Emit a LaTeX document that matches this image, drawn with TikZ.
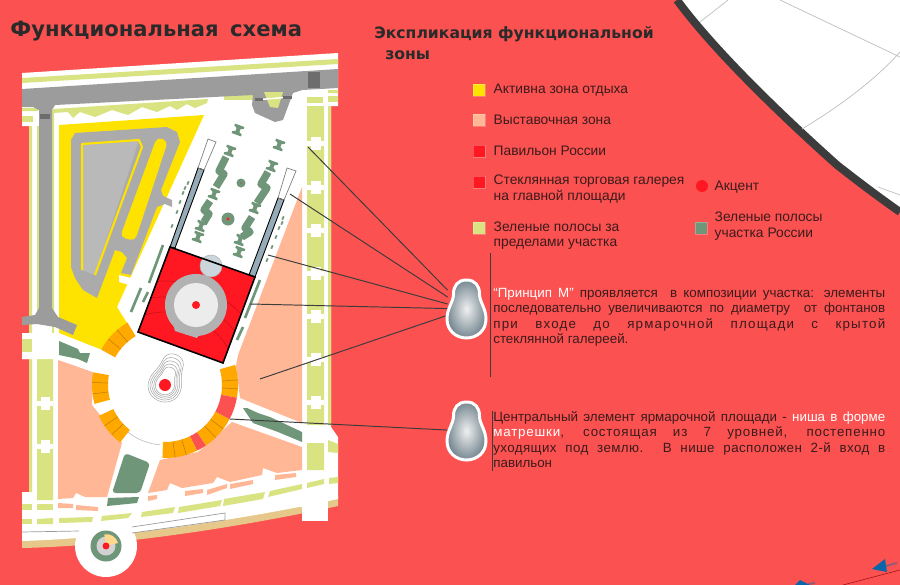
\documentclass[tikz,border=0pt]{standalone}
\usepackage{fontspec}
\setmainfont{Liberation Sans}
\newfontfamily\headfont{DejaVu Sans}
\usetikzlibrary{positioning}
\definecolor{zbg}{HTML}{FB5150}
\definecolor{zyellow}{HTML}{FFE300}
\definecolor{zpink}{HTML}{FFB796}
\definecolor{zred}{HTML}{FF1721}
\definecolor{zlime}{HTML}{DAE381}
\definecolor{zgreen}{HTML}{6F9679}
\definecolor{zgrey}{HTML}{9C9C9C}
\definecolor{zorange}{HTML}{FFA800}
\definecolor{ztan}{HTML}{E6C88A}
\definecolor{zsteel}{HTML}{95ACB8}
\definecolor{zink}{HTML}{3B1B1C}
\definecolor{zdark}{HTML}{3C3C3C}
\definecolor{zblue}{HTML}{0A66A9}
\tikzset{
swatch/.style={minimum size=0.24cm, inner sep=0pt, draw=white, draw opacity=0.25}, % legend squares
legend/.style={inner sep=0pt, align=left, text=zink, font=\fontsize{7.85}{8.9}\selectfont, right=0.16cm of #1},
para/.style={inner sep=0pt, anchor=north west, align=left, text=zink, font=\fontsize{7.6}{8.75}\selectfont},
leader/.style={draw=zdark, line width=0.55pt},
pearbox/.style={minimum width=0.72cm, minimum height=1.16cm, inner sep=0pt},
tick/.style={zgreen, line width=1.5pt},
wave/.style={zgreen, line width=4.2pt, line join=round},
pearshape/.pic={\path[pic actions] (0,-38) .. controls (9,-38) and (13,-32) .. (13,-24) .. controls (13,-16) and (19.5,-10) .. (19.5,1) .. controls (19.5,13) and (10,20) .. (0,20) .. controls (-10,20) and (-19.5,13) .. (-19.5,1) .. controls (-19.5,-10) and (-13,-16) .. (-13,-24) .. controls (-13,-32) and (-9,-38) .. (0,-38) -- cycle;},
spool/.pic={\fill[zgreen] (-5,-5) -- (5,-5) -- (5,-3) -- (2,-1.5) -- (2,1.5) -- (5,3) -- (5,5) -- (-5,5) -- (-5,3) -- (-2,1.5) -- (-2,-1.5) -- (-5,-3) -- cycle;},
}
\newcommand{\ringseg}[3]{\fill[#3] ([shift={(-#1:57)}]165,385) arc[start angle=-#1, end angle=-#2, radius=57] -- ([shift={(-#2:73)}]165,385) arc[start angle=-#2, end angle=-#1, radius=73] -- cycle;}
\newcommand{\fullline}[1]{\makebox[7.84cm][s]{#1}}
\begin{document}
\begin{tikzpicture}[x=0.02cm,y=-0.02cm]
\useasboundingbox (0,0) rectangle (900,585);
\fill[zbg] (0,0) rectangle (900,585);
% white sector top right
\fill[white] (677,0) .. controls (710,45) and (770,105) .. (837,165) .. controls (860,183) and (880,198) .. (900,212) -- (900,0) -- cycle;
\draw[zdark, line width=4.5pt] (677,0) .. controls (710,45) and (770,105) .. (837,165) .. controls (860,183) and (880,198) .. (900,212);
\draw[gray!50, line width=0.4pt] (700,22) -- (728,0) (780,0) -- (900,57) (802,129) .. controls (840,106) and (875,80) .. (900,52) (878,187) -- (900,195);
% site base
\fill[ztan] (22,535) -- (22,548) .. controls (120,546) and (240,527) .. (338,506) -- (338,495) -- cycle;
\fill[white] (22,73) -- (338,53) -- (338,106) -- (331,106) -- (331,427) -- (338,437) -- (338,499) .. controls (240,520) and (120,538) .. (22,541) -- (22,492) -- (29,492) -- (29,359) -- (22,359) -- (22,333) -- (29,333) -- (29,126) -- (22,126) -- cycle;
\fill[white] (302,500) rectangle (328,521);
\fill[white] (293,498) rectangle (310,507);
\fill[white] (106,546) circle (31);
\fill[zgreen] (106,546) circle (15.5);
\fill[gray!35] (106,546) circle (9.5);
\fill[zorange!45] (106,546) -- (118,543) arc[start angle=-15, end angle=-100, radius=12] -- cycle;
\fill[zred] (106,546) circle (3.5);
\draw[zgrey, line width=0.4pt] (22,532) -- (79,531) (132,527) -- (225,513) -- (225,520) -- (132,533);
% zones
\fill[zyellow] (59,125) -- (204,115) -- (117,307) -- (127,323) -- (102,350) -- (59,333) -- cycle;
\fill[zpink] (58,360) -- (93,372) -- (92,405) -- (100,415) -- (122,443) -- (107,497) -- (85,497) -- (76,493) -- (73,498) -- (58,499) -- cycle;
\fill[zpink] (160,460) -- (148,493) -- (167,490) -- (170,483) -- (182,488) -- (213,483) -- (217,477) -- (230,482) -- (262,475) -- (263,468) -- (277,473) -- (302,470) -- (302,447) -- (232,422) -- (198,452) -- cycle;
\fill[zpink] (302,187) -- (238,355) -- (236,366) -- (240,398) -- (302,423) -- cycle;
\foreach \a/\b/\c/\d in {58/503/73/504,76/505/98/507,148/496/157/495,185/491/203/489,207/490/227/484,230/484/253/480,275/475/296/473}
  \fill[zpink] (\a,\b) -- (\c,\d) -- (\c,\d+4) -- (\a,\b+5) -- cycle;
\fill[white] (165,385) circle (57);
% lime strips
\fill[zlime] (22,78) -- (338,59) -- (338,64) -- (22,83) -- cycle;
\fill[zlime] (53,109) -- (208,99) -- (207,103) -- (195,108) -- (187,104) -- (177,110) -- (170,106) -- (157,112) -- (142,107) -- (128,115) -- (112,110) -- (95,117) -- (80,112) -- (73,118) -- (68,112) -- (53,113) -- cycle;
\foreach \a/\b/\c/\d in {224/95/253/94,307/97/323/97,328/96/338/96,22/116/33/116}
  \fill[zlime] (\a,\b) rectangle (\c,\d+6);
\fill[zlime] (328,90) rectangle (338,93) (22,108) rectangle (38,111);
\fill[zlime] (307,106) rectangle (324,425) (307,443) rectangle (324,470);
\fill[zlime] (328,106) rectangle (331,425) (29,126) rectangle (32,333) (29,359) rectangle (32,492) (37,359) rectangle (53,500);
\fill[zlime] (37,126) rectangle (39,317) (52,110) rectangle (54,333);
\foreach \y in {143,187,230,273,316,359,402}{
  \fill[white] (307,\y-2.5) rectangle (324,\y+2.5);
  \fill[white] (311,\y-6.5) rectangle (321,\y+6.5);
}
\foreach \y in {403,446}{
  \fill[white] (37,\y-2.5) rectangle (53,\y+2.5);
  \fill[white] (41,\y-6.5) rectangle (50,\y+6.5);
}
\foreach \a/\b/\c/\d/\e/\f/\g/\h in {59/518/93/517/92/522/59/523,102/516/132/513/128/518/101/521,142/512/175/507/173/513/141/517,179/507/222/500/220/506/178/513,224/499/265/492/263/499/223/506,270/491/302/484/302/489/268/497,307/483/324/479/324/484/307/488,329/478/338/477/338/483/329/484,37/504/53/504/53/510/37/510,22/504/32/504/32/510/22/510,37/519/53/518/53/524/37/524,22/519/32/519/32/524/22/524}
  \fill[zlime] (\a,\b) -- (\c,\d) -- (\e,\f) -- (\g,\h) -- cycle;
\fill[zlime] (328,440) -- (338,444) -- (338,453) -- (328,452) -- cycle;
% roads
\fill[zgrey] (22,89) -- (338,69) -- (338,88) -- (302,90) -- (293,93) -- (283,120) -- (275,122) -- (255,113) -- (252,105) -- (253,95) -- (55,105) -- (52,110) -- (52,308) -- (58,317) -- (77,325) -- (73,335) -- (55,327) -- (37,324) -- (22,325) -- (22,317) -- (35,315) -- (39,308) -- (39,110) -- (33,107) -- (22,107) -- cycle;
\fill[zlime] (264,92) -- (283,92) -- (278,108) -- (270,107) -- cycle;
\fill[white] (257,99) -- (293,96) -- (293,97.5) -- (257,100.5) -- cycle;
\foreach \a/\b/\c/\d in {308/72/320/88,40/114/50/119,255/98/263/101,283/96/292/99}
  \fill[zdark!75] (\a,\b) rectangle (\c,\d);
% parking loop
\fill[zgrey!85] (71,140) -- (75,133) -- (167,127) -- (177,132) -- (180,142) -- (161,190) -- (163,196) -- (172,200) -- (172,207) -- (165,204) -- (157,207) -- (131,275) -- (121,273) -- (127,258) -- (122,252) -- (115,250) -- (97,298) -- (83,290) -- (75,278) -- (71,267) -- cycle;
\fill[zyellow, rounded corners=3pt] (157,137) -- (168,141) -- (135,241) -- (120,237) -- cycle;
\fill[white] (119,275) -- (143,281) -- (140,288) -- (119,282) -- cycle;
\fill[gray!55] (82,143) -- (139,140) -- (95,275) -- (82,270) -- cycle;
\draw[zyellow, line width=1.2pt, line join=round] (82,270) -- (82,144) -- (139,140) -- (142,147) -- (95,275);
% axis of the pavilion
\fill[zsteel, draw=black, line width=0.5pt] (198,168) -- (204,170) -- (175,248) -- (170,247) -- cycle;
\fill[zsteel, draw=black, line width=0.5pt] (278,198) -- (284,200) -- (255,277) -- (249,275) -- cycle;
\draw[gray, line width=0.4pt] (208,139) -- (216,142) -- (204,170) -- (198,168) -- cycle (287,168) -- (296,171) -- (284,200) -- (278,198) -- cycle;
\foreach \x/\y in {238/130,279/145,230/151,272/166,214/194,255/208,201/226,198/237,240/240,239/252}
  \pic[rotate=-20] at (\x,\y) {spool};
\draw[wave] (226,157) -- (219,171) -- (224,174) -- (216,187);
\draw[wave] (210,201) -- (204,210) -- (209,214) -- (204,222);
\draw[wave] (268,172) -- (261,184) -- (267,188) -- (257,203);
\draw[wave] (252,217) -- (245,228) -- (250,232) -- (242,237);
\fill[zgreen] (241,183) circle (4.5) (228,219) circle (6.5);
\fill[zred] (241,183) circle (0.6) (228,219) circle (1.6);
\foreach \x/\y in {172/226,177/212,180/202,183/193,185/188,188/183,267/260,272/247,276/237,279/228,282/223,283/218}
  \draw[zgreen, line width=1pt] (\x-0.7,\y+1.7) -- (\x+0.7,\y-1.7);
\draw[tick] (163,245) -- (149,283) (141,288) -- (131,312) (148,292) -- (143,302) (260,280) -- (245,318) (243,327) -- (237,340);
% pavilion
\fill[zred] (170,247) -- (255,277) -- (223,363) -- (138,332) -- cycle;
\begin{scope}
\clip (170,247) -- (255,277) -- (223,363) -- (138,332) -- cycle;
\foreach \r in {73,88,104}
  \draw[zred!80!black, line width=0.35pt] (165,385) circle (\r);
\end{scope}
\fill[gray!60] (173,324) -- (175,331) -- (197,338) -- (200,333) -- cycle;
\fill[gray!60] (196,305) circle (31);
\fill[gray!15] (196,305) circle (22);
\fill[zred] (196,305) circle (4);
\fill[zsteel!50!white, draw=gray!60, line width=0.3pt] (211,266) circle (11);
\draw[black, line width=0.9pt] (170,247) -- (255,277) -- (223,363) -- (138,332) -- cycle;
% square and ring
\draw[gray!50, line width=0.35pt] (165,385) ++(-205:60) arc[start angle=-205, end angle=-265, radius=60];
\ringseg{121}{151}{zorange}
\ringseg{16}{-10}{zorange}
\ringseg{-10}{-28}{zbg}
\ringseg{-28}{-56}{zorange}
\ringseg{-56}{-64}{zbg}
\ringseg{-64}{-92}{zorange}
\ringseg{-128}{-155}{zorange}
\ringseg{170}{195}{zorange}
\foreach \a in {131,141,4,-3,-37,-46,-73,-82,-137,-146,178,187}
  \draw[zorange!75!black, line width=0.3pt] ([shift={(-\a:57)}]165,385) -- ([shift={(-\a:73)}]165,385);
\foreach \s in {0.85,0.75,0.66,0.57,0.49}
  \pic[draw=gray!70, line width=0.3pt, scale=\s, rotate=-20] at (165,385) {pearshape};
\fill[zred] (165,385) circle (6);
\fill[white] (22,333) -- (58,333) -- (102,350) -- (93,372) -- (58,359) -- (22,359) -- cycle;
\fill[zlime] (22,339) rectangle (32,352);
\fill[zgreen] (59,341) -- (78,349) -- (80,353) -- (90,353) -- (87,363) -- (78,359) -- (59,355) -- cycle;
\fill[zgreen] (243,408) -- (253,423) -- (267,428) -- (278,432) -- (302,442) -- (302,432) -- (283,423) -- (270,417) -- (258,413) -- (247,408) -- cycle;
\fill[zgreen, rounded corners=2pt] (125,453) -- (150,463) -- (140,493) -- (112,493) -- cycle;
\fill[zgreen] (108,498) -- (139,497) -- (137,503) -- (107,506) -- cycle;
% legend
\node[swatch, fill=zyellow] (s1) at (479,90) {};
\node[swatch, fill=zpink] (s2) at (479,120) {};
\node[swatch, fill=zred] (s3) at (479,151) {};
\node[swatch, fill=zred] (s4) at (479,182) {};
\node[swatch, fill=zlime] (s5) at (479,228) {};
\node[circle, fill=zred, minimum size=0.24cm, inner sep=0pt] (s6) at (702,186) {};
\node[swatch, fill=zgreen] (s7) at (701,228) {};
\node[legend=s1] (t1) {Активна зона отдыха};
\node[legend=s2] (t2) {Выставочная зона};
\node[legend=s3] (t3) {Павильон России};
\node[legend=s4, yshift=-0.14cm] (t4) {Стеклянная торговая галерея\\на главной площади};
\node[legend=s5, yshift=-0.15cm] (t5) {Зеленые полосы за\\пределами участка};
\node[legend=s6, xshift=-0.04cm, yshift=-0.02cm] (t6) {Акцент};
\node[legend=s7, xshift=-0.02cm, yshift=0.04cm] (t7) {Зеленые полосы\\участка России};
% titles
\node[anchor=base west, inner sep=0pt, text=zdark!70!black, font=\headfont\bfseries\fontsize{12}{12}\selectfont] (title) at (10,36) {Функциональная\hspace{0.2em} схема};
\node[anchor=base west, inner sep=0pt, text=zdark!70!black, font=\headfont\bfseries\fontsize{8.9}{10}\selectfont] (head1) at (374,38) {Экспликация функциональной};
\node[anchor=base west, inner sep=0pt, text=zdark!70!black, font=\headfont\bfseries\fontsize{8.9}{10}\selectfont] (head2) at (385,59) {зоны};
% leaders
\node[pearbox] (pearA) at (466,309) {};
\node[pearbox] (pearB) at (466,431) {};
\coordinate (a1) at (308,147);
\coordinate (a2) at (290,194);
\coordinate (a3) at (268,255);
\coordinate (a4) at (250,304);
\coordinate (a5) at (260,379);
\coordinate (b1) at (230,419);
\foreach \c in {a1,a2,a3,a4,a5}
  \draw[leader] (\c) -- (pearA);
\draw[leader] (b1) -- (pearB);
\pic[draw=white, line width=1.7pt, inner color=gray!12, outer color=zsteel!80!black] at (466.5,318) {pearshape};
\pic[draw=white, line width=1.7pt, inner color=gray!12, outer color=zsteel!80!black] at (466.5,440) {pearshape};
\coordinate (v1) at (490.5,253);
\coordinate (v2) at (490.5,377);
\coordinate (v3) at (492,411);
\coordinate (v4) at (492,471);
\draw[leader] (v1) -- (v2);
\draw[leader] (v3) -- (v4);
% text
\node[para] (p1) at (493,288) {%
\fullline{\textcolor{white}{“Принцип М”} проявляется\ \ в композиции участка: элементы}\\
\fullline{последовательно увеличиваются по диаметру\ \ от фонтанов}\\
\fullline{\addfontfeature{LetterSpace=9}при входе до ярмарочной площади с крытой}\\
стеклянной галереей.};
\node[para] (p2) at (493,411) {%
\fullline{Центральный элемент ярмарочной площади - \textcolor{white}{ниша в форме}}\\
\fullline{\addfontfeature{LetterSpace=6}\textcolor{white}{матрешки}, состоящая из 7 уровней, постепенно}\\
\fullline{\addfontfeature{LetterSpace=3}уходящих под землю. В нише расположен 2-й вход в}\\
павильон};
% corner arrows
\draw[zblue!40!zbg, line width=1.2pt] (886,566) -- (897,563) (808,584) -- (815,583);
\fill[zblue] (872,569) -- (885,559) -- (887,572) -- cycle;
\fill[zblue] (795,585) -- (800,580) -- (810,585) -- cycle;
\draw[zred!60!black, line width=0.3pt] (843,585) -- (900,570);
\end{tikzpicture}
\end{document}
